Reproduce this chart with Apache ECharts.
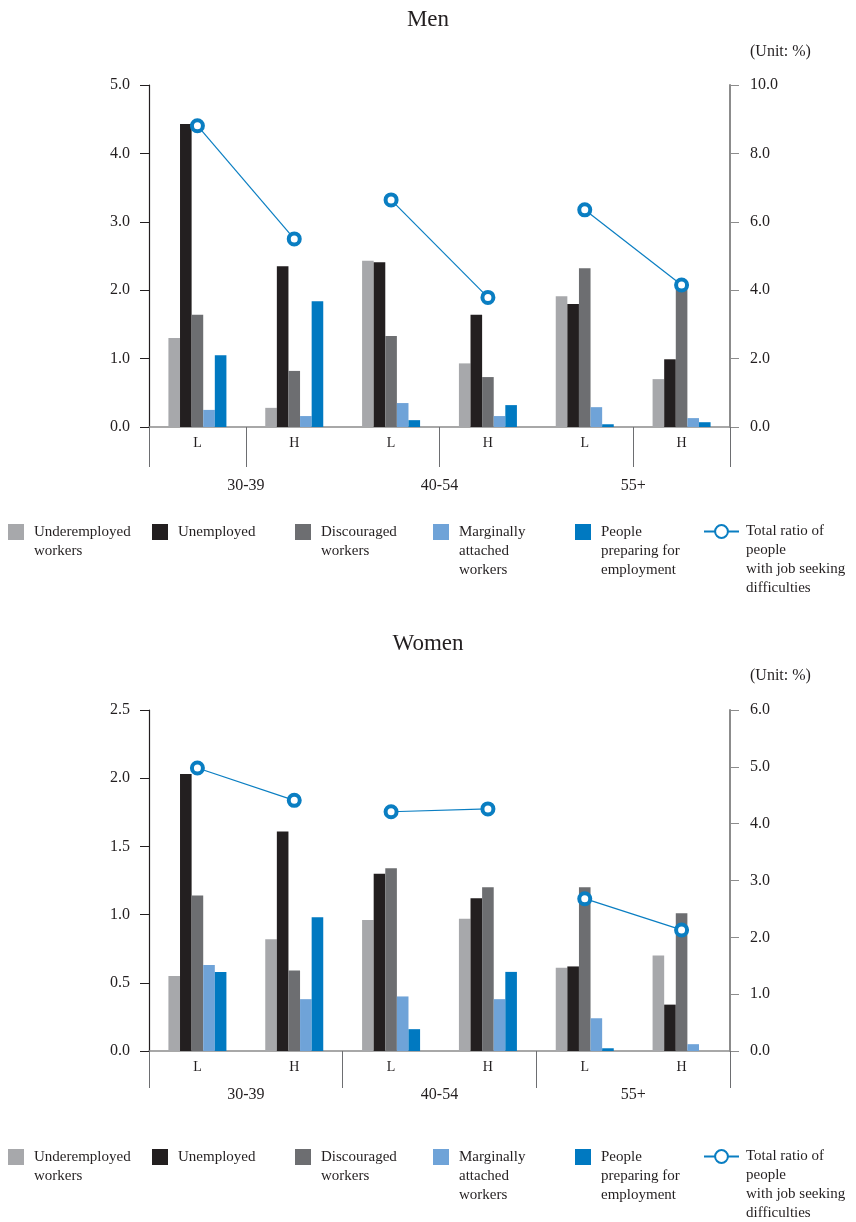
<!DOCTYPE html>
<html lang="en">
<head>
<meta charset="UTF-8">
<title>Job seeking difficulties by age and level</title>
<script src="https://cdn.jsdelivr.net/npm/echarts@6/dist/echarts.min.js"></script>
<style>
body { margin: 0; background: #fff; }
#men { width: 856px; height: 624px; }
#women { width: 856px; height: 598px; }
</style>
</head>
<body>
<div id="men"></div>
<div id="women"></div>
<script>
var ageGroups = ['30-39', '40-54', '55+'];
var levels = ['L', 'H', 'L', 'H', 'L', 'H'];
var barNames = ['Underemployed\nworkers', 'Unemployed', 'Discouraged\nworkers',
    'Marginally\nattached\nworkers', 'People\npreparing for\nemployment'];
var totalName = 'Total ratio of\npeople\nwith job seeking\ndifficulties';

// Men, left axis (%)
var menUnder = [1.30, 0.28, 2.43, 0.93, 1.91, 0.70];
var menUnemp = [4.43, 2.35, 2.41, 1.64, 1.80, 0.99];
var menDisc  = [1.64, 0.82, 1.33, 0.73, 2.32, 2.05];
var menMarg  = [0.25, 0.16, 0.35, 0.16, 0.29, 0.13];
var menPrep  = [1.05, 1.84, 0.10, 0.32, 0.04, 0.07];
// Men, right axis (%)
var menTotal = [8.81, 5.50, 6.64, 3.79, 6.35, 4.15];

// Women, left axis (%)
var womenUnder = [0.55, 0.82, 0.96, 0.97, 0.61, 0.70];
var womenUnemp = [2.03, 1.61, 1.30, 1.12, 0.62, 0.34];
var womenDisc  = [1.14, 0.59, 1.34, 1.20, 1.20, 1.01];
var womenMarg  = [0.63, 0.38, 0.40, 0.38, 0.24, 0.05];
var womenPrep  = [0.58, 0.98, 0.16, 0.58, 0.02, 0];
// Women, right axis (%)
var womenTotal = [4.98, 4.41, 4.21, 4.26, 2.68, 2.13];

var barColors = ['#a7a8ab', '#231f20', '#6d6e71', '#6fa3d8', '#0079c1'];
var lineColor = '#0a7ec2';
var textColor = '#231f20';
var serif = '"Liberation Serif", "DejaVu Serif", serif';

function makeOption(cfg) {
    var series = [];
    cfg.bars.forEach(function (vals, i) {
        series.push({
            type: 'bar', name: barNames[i], data: vals,
            xAxisIndex: 0, yAxisIndex: 0,
            barWidth: 11.6, barGap: '0%',
            itemStyle: { color: barColors[i] }
        });
    });
    // line is broken between age groups -> one series per group
    for (var g = 0; g < 3; g++) {
        series.push({
            type: 'line', name: totalName,
            data: cfg.total.map(function (v, i) { return Math.floor(i / 2) === g ? v : '-'; }),
            xAxisIndex: 0, yAxisIndex: 1, z: 5,
            symbol: 'circle', symbolSize: 11,
            lineStyle: { color: lineColor, width: 1.2 },
            itemStyle: { color: '#fff', borderColor: lineColor, borderWidth: 4 }
        });
    }

    // one legend per item so each can sit where the reference has it.
    // text is centred on the icon, so a top padding (rich text) pushes
    // the first line level with the icon
    var legendNames = barNames.concat([totalName]);
    var legendLeft = [8, 152, 295, 433, 575, 703];
    var legends = legendNames.map(function (name, i) {
        var n = name.split('\n').length;
        var isLine = i === 5;
        var lg = {
            data: [name], left: legendLeft[i], top: cfg.legendTop,
            padding: 0, itemWidth: isLine ? 35 : 16, itemHeight: 16,
            selectedMode: false,
            formatter: function (nm) {
                return nm.split('\n').map(function (l) { return '{t|' + l + '}'; }).join('\n');
            },
            textStyle: {
                padding: [19 * (n - 1), 0, 0, isLine ? 2 : 5],
                rich: { t: { fontFamily: serif, fontSize: 15, color: textColor, lineHeight: 19 } }
            }
        };
        if (!isLine) lg.icon = 'rect';
        return lg;
    });

    var yLabel = {
        fontFamily: serif, fontSize: 16, color: textColor,
        formatter: function (v) { return v.toFixed(1); }
    };

    return {
        animation: false,
        title: [
            { text: cfg.title, left: 'center', top: 3,
              textStyle: { fontFamily: serif, fontSize: 23, fontWeight: 'normal', color: textColor } },
            { text: '(Unit: %)', left: 745, top: 39,
              textStyle: { fontFamily: serif, fontSize: 16, fontWeight: 'normal', color: textColor } }
        ],
        legend: legends,
        grid: { left: 149, right: 126, top: cfg.gridTop, bottom: cfg.height - 427 },
        xAxis: [
            {
                type: 'category', data: levels, position: 'bottom',
                axisLine: { lineStyle: { color: '#8c8c8c', width: 1.5 } },
                axisTick: { length: 10, lineStyle: { color: '#6d6e71' } },
                axisLabel: { margin: 9, fontFamily: serif, fontSize: 14, color: textColor }
            },
            {
                type: 'category', boundaryGap: false, position: 'bottom',
                data: ['0', '1', '2', '3', '4', '5', '6'],
                axisLine: { show: false },
                axisTick: {
                    length: cfg.longTick, lineStyle: { color: '#6d6e71' },
                    interval: function (i) { return cfg.longTicks.indexOf(i) >= 0; }
                },
                axisLabel: {
                    interval: 0, margin: cfg.groupMargin,
                    fontFamily: serif, fontSize: 16, color: textColor,
                    formatter: function (v, i) { return i % 2 === 1 ? ageGroups[(i - 1) / 2] : ''; }
                }
            }
        ],
        yAxis: [
            {
                type: 'value', min: 0, max: cfg.leftMax, interval: cfg.leftStep,
                splitLine: { show: false },
                axisLine: { show: true, lineStyle: { color: textColor, width: 1.2 } },
                axisTick: { show: true, length: 9, lineStyle: { color: textColor } },
                axisLabel: Object.assign({ margin: 19 }, yLabel)
            },
            {
                type: 'value', position: 'right', min: 0, max: cfg.rightMax, interval: cfg.rightStep,
                splitLine: { show: false },
                axisLine: { show: true, lineStyle: { color: '#8c8c8c', width: 2 } },
                axisTick: { show: true, length: 9, lineStyle: { color: '#8c8c8c' } },
                axisLabel: Object.assign({ margin: 20 }, yLabel)
            }
        ],
        series: series
    };
}

var menChart = echarts.init(document.getElementById('men'));
menChart.setOption(makeOption({
    title: 'Men', height: 624, gridTop: 85, legendTop: 524,
    bars: [menUnder, menUnemp, menDisc, menMarg, menPrep], total: menTotal,
    leftMax: 5, leftStep: 1, rightMax: 10, rightStep: 2,
    longTick: 40, longTicks: [0, 1, 3, 5, 6], groupMargin: 51
}));

var womenChart = echarts.init(document.getElementById('women'));
womenChart.setOption(makeOption({
    title: 'Women', height: 598, gridTop: 86, legendTop: 525,
    bars: [womenUnder, womenUnemp, womenDisc, womenMarg, womenPrep], total: womenTotal,
    leftMax: 2.5, leftStep: 0.5, rightMax: 6, rightStep: 1,
    longTick: 37, longTicks: [0, 2, 4, 6], groupMargin: 36
}));
</script>
</body>
</html>
